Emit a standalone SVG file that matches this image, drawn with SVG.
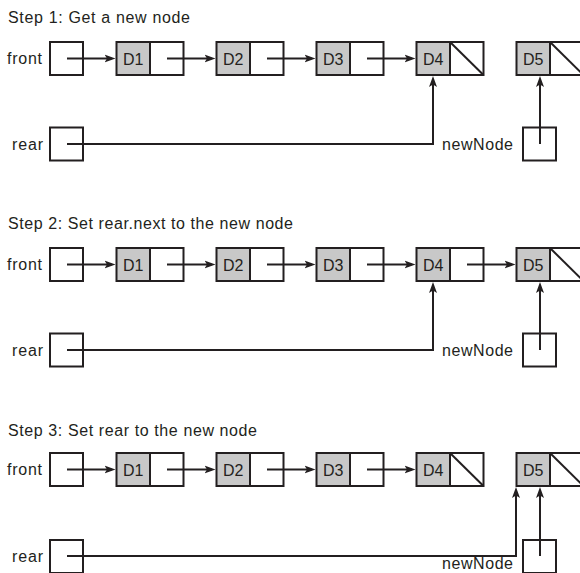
<svg xmlns="http://www.w3.org/2000/svg" width="580" height="573" viewBox="0 0 580 573">
<style>
text{font-family:"Liberation Sans",Arial,sans-serif;font-size:16px;fill:#231f20}
.box{fill:#fff;stroke:#231f20;stroke-width:2}
.data{fill:#c8c8c8;stroke:#231f20;stroke-width:2}
.ln{fill:none;stroke:#231f20;stroke-width:2}
.arr{fill:none;stroke:#231f20;stroke-width:2;marker-end:url(#ah)}
.lbl{text-anchor:middle}
</style>
<defs>
<marker id="ah" markerUnits="userSpaceOnUse" markerWidth="12" markerHeight="10" viewBox="0 0 12 10" refX="7" refY="5" orient="auto">
<path d="M0,1 L11,5 L0,9 L2.5,5 z" fill="#231f20"/>
</marker>
</defs>
<rect width="580" height="573" fill="#fff"/>

<!-- Step 1 -->
<g id="step1">
<text x="8" y="22.5" textLength="182">Step 1: Get a new node</text>
<g id="s1-front"><text x="7" y="64" textLength="35">front</text><rect class="box" x="50" y="42" width="33" height="33"/></g>
<g id="s1-d1"><rect class="data" x="116.5" y="42" width="33.5" height="33"/><rect class="box" x="150" y="42" width="33.5" height="33"/><text class="lbl" x="133.3" y="64.5">D1</text></g>
<g id="s1-d2"><rect class="data" x="216.5" y="42" width="33.5" height="33"/><rect class="box" x="250" y="42" width="33.5" height="33"/><text class="lbl" x="233.3" y="64.5">D2</text></g>
<g id="s1-d3"><rect class="data" x="316.5" y="42" width="33.5" height="33"/><rect class="box" x="350" y="42" width="33.5" height="33"/><text class="lbl" x="333.3" y="64.5">D3</text></g>
<g id="s1-d4"><rect class="data" x="416.5" y="42" width="33.5" height="33"/><rect class="box" x="450" y="42" width="33.5" height="33"/><path class="ln" d="M450,42 L483.5,75"/><text class="lbl" x="433.3" y="64.5">D4</text></g>
<g id="s1-d5"><rect class="data" x="516.5" y="42" width="33.5" height="33"/><rect class="box" x="550" y="42" width="33.5" height="33"/><path class="ln" d="M550,42 L583.5,75"/><text class="lbl" x="533.3" y="64.5">D5</text></g>
<g id="s1-rear"><text x="12" y="149.5" textLength="31">rear</text><rect class="box" x="50" y="127.5" width="33" height="33"/></g>
<g id="s1-newnode"><text x="442" y="150" textLength="71">newNode</text><rect class="box" x="523" y="127.5" width="33" height="33"/></g>
<g id="s1-connectors">
<path class="arr" d="M67,58.5 H111.5"/>
<path class="arr" d="M167,58.5 H211.5"/>
<path class="arr" d="M267,58.5 H311.5"/>
<path class="arr" d="M367,58.5 H411.5"/>
<path class="arr" d="M67,144 H433 V80"/>
<path class="arr" d="M540,144 V80"/>
</g>
</g>

<!-- Step 2 -->
<g id="step2" transform="translate(0,206)">
<text x="8" y="23" textLength="285">Step 2: Set rear.next to the new node</text>
<g id="s2-front"><text x="7" y="64" textLength="35">front</text><rect class="box" x="50" y="42" width="33" height="33"/></g>
<g id="s2-d1"><rect class="data" x="116.5" y="42" width="33.5" height="33"/><rect class="box" x="150" y="42" width="33.5" height="33"/><text class="lbl" x="133.3" y="64.5">D1</text></g>
<g id="s2-d2"><rect class="data" x="216.5" y="42" width="33.5" height="33"/><rect class="box" x="250" y="42" width="33.5" height="33"/><text class="lbl" x="233.3" y="64.5">D2</text></g>
<g id="s2-d3"><rect class="data" x="316.5" y="42" width="33.5" height="33"/><rect class="box" x="350" y="42" width="33.5" height="33"/><text class="lbl" x="333.3" y="64.5">D3</text></g>
<g id="s2-d4"><rect class="data" x="416.5" y="42" width="33.5" height="33"/><rect class="box" x="450" y="42" width="33.5" height="33"/><text class="lbl" x="433.3" y="64.5">D4</text></g>
<g id="s2-d5"><rect class="data" x="516.5" y="42" width="33.5" height="33"/><rect class="box" x="550" y="42" width="33.5" height="33"/><path class="ln" d="M550,42 L583.5,75"/><text class="lbl" x="533.3" y="64.5">D5</text></g>
<g id="s2-rear"><text x="12" y="149.5" textLength="31">rear</text><rect class="box" x="50" y="127.5" width="33" height="33"/></g>
<g id="s2-newnode"><text x="442" y="150" textLength="71">newNode</text><rect class="box" x="523" y="127.5" width="33" height="33"/></g>
<g id="s2-connectors">
<path class="arr" d="M67,58.5 H111.5"/>
<path class="arr" d="M167,58.5 H211.5"/>
<path class="arr" d="M267,58.5 H311.5"/>
<path class="arr" d="M367,58.5 H411.5"/>
<path class="arr" d="M467,58.5 H511.5"/>
<path class="arr" d="M67,144 H433 V80"/>
<path class="arr" d="M540,144 V80"/>
</g>
</g>

<!-- Step 3 -->
<g id="step3" transform="translate(0,411)">
<text x="8" y="24.5" textLength="249">Step 3: Set rear to the new node</text>
<g id="s3-front"><text x="7" y="64" textLength="35">front</text><rect class="box" x="50" y="42" width="33" height="33"/></g>
<g id="s3-d1"><rect class="data" x="116.5" y="42" width="33.5" height="33"/><rect class="box" x="150" y="42" width="33.5" height="33"/><text class="lbl" x="133.3" y="64.5">D1</text></g>
<g id="s3-d2"><rect class="data" x="216.5" y="42" width="33.5" height="33"/><rect class="box" x="250" y="42" width="33.5" height="33"/><text class="lbl" x="233.3" y="64.5">D2</text></g>
<g id="s3-d3"><rect class="data" x="316.5" y="42" width="33.5" height="33"/><rect class="box" x="350" y="42" width="33.5" height="33"/><text class="lbl" x="333.3" y="64.5">D3</text></g>
<g id="s3-d4"><rect class="data" x="416.5" y="42" width="33.5" height="33"/><rect class="box" x="450" y="42" width="33.5" height="33"/><path class="ln" d="M450,42 L483.5,75"/><text class="lbl" x="433.3" y="64.5">D4</text></g>
<g id="s3-d5"><rect class="data" x="516.5" y="42" width="33.5" height="33"/><rect class="box" x="550" y="42" width="33.5" height="33"/><path class="ln" d="M550,42 L583.5,75"/><text class="lbl" x="533.3" y="64.5">D5</text></g>
<g id="s3-rear"><text x="12" y="150.5" textLength="31">rear</text><rect class="box" x="50" y="129" width="33" height="33"/></g>
<g id="s3-newnode"><text x="442" y="158" textLength="71">newNode</text><rect class="box" x="523" y="129" width="33" height="33"/></g>
<g id="s3-connectors">
<path class="arr" d="M67,145 H516 V80"/>
<path class="arr" d="M67,58.5 H111.5"/>
<path class="arr" d="M167,58.5 H211.5"/>
<path class="arr" d="M267,58.5 H311.5"/>
<path class="arr" d="M367,58.5 H411.5"/>
<path class="arr" d="M540,145 V80"/>
</g>
</g>
</svg>
